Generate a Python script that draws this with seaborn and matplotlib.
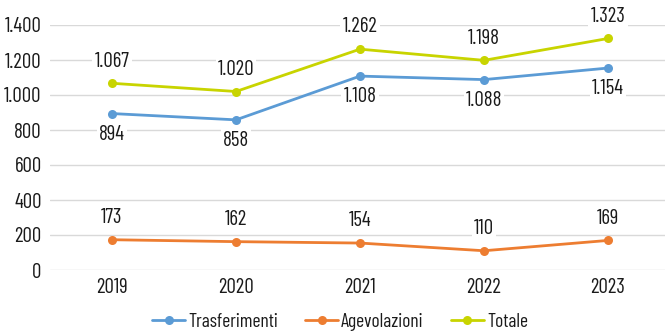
import matplotlib
matplotlib.use("Agg")
import matplotlib.pyplot as plt
import seaborn as sns
import pandas as pd

years = ["2019", "2020", "2021", "2022", "2023"]
trasferimenti = [894, 858, 1108, 1088, 1154]
agevolazioni = [173, 162, 154, 110, 169]
totale = [1067, 1020, 1262, 1198, 1323]
series_names = ["Trasferimenti", "Agevolazioni", "Totale"]
colors = ["#5B9BD5", "#ED7D31", "#C8D400"]

sns.set_style("white")
plt.rcParams["font.family"] = ["Barlow Condensed", "DejaVu Sans"]

df = pd.DataFrame({
    "anno": list(range(len(years))) * 3,
    "valore": trasferimenti + agevolazioni + totale,
    "serie": [s for s in series_names for _ in years],
})

def fmt(v):
    return f"{v:,}".replace(",", ".")

FS = 15
TXT = "#1a1a1a"

fig = plt.figure(figsize=(6.65, 3.31), dpi=100)
ax = fig.add_axes([50 / 665, 61 / 331, 620 / 665, 245 / 331])

sns.lineplot(data=df, x="anno", y="valore", hue="serie", hue_order=series_names,
             palette=colors, marker="o", markersize=6.5, markeredgewidth=0,
             linewidth=2.0, ax=ax, legend=True)

ax.set_xlim(-0.5, 4.5)
ax.set_ylim(0, 1400)
ax.set_yticks(range(0, 1401, 200))
ax.set_yticklabels([fmt(v) for v in range(0, 1401, 200)])
ax.set_xticks(range(len(years)))
ax.set_xticklabels(years)
ax.grid(axis="y", color="#D9D9D9", linewidth=1.0)
ax.set_axisbelow(True)
for s in ax.spines.values():
    s.set_visible(False)
ax.tick_params(axis="both", length=0, labelsize=FS, colors=TXT, pad=6)
ax.set_xlabel("")
ax.set_ylabel("")

box = dict(boxstyle="square,pad=0.1", facecolor="white", edgecolor="none")
for i in range(len(years)):
    ax.annotate(fmt(totale[i]), (i, totale[i]), xytext=(0, 16), textcoords="offset points",
                ha="center", va="center", fontsize=FS, color=TXT, bbox=box)
    ax.annotate(fmt(trasferimenti[i]), (i, trasferimenti[i]), xytext=(0, -15), textcoords="offset points",
                ha="center", va="center", fontsize=FS, color=TXT, bbox=box)
    ax.annotate(fmt(agevolazioni[i]), (i, agevolazioni[i]), xytext=(0, 16), textcoords="offset points",
                ha="center", va="center", fontsize=FS, color=TXT, bbox=box)

handles, labels = ax.get_legend_handles_labels()
ax.legend(handles, labels, loc="center", bbox_to_anchor=(0.5 - 20 / 620, -61 / 245 + 9 / 245),
          ncol=3, frameon=False, fontsize=FS - 1, handlelength=1.7, columnspacing=1.4,
          handletextpad=0.15, labelcolor=TXT)

fig.savefig("out.png", dpi=100)
